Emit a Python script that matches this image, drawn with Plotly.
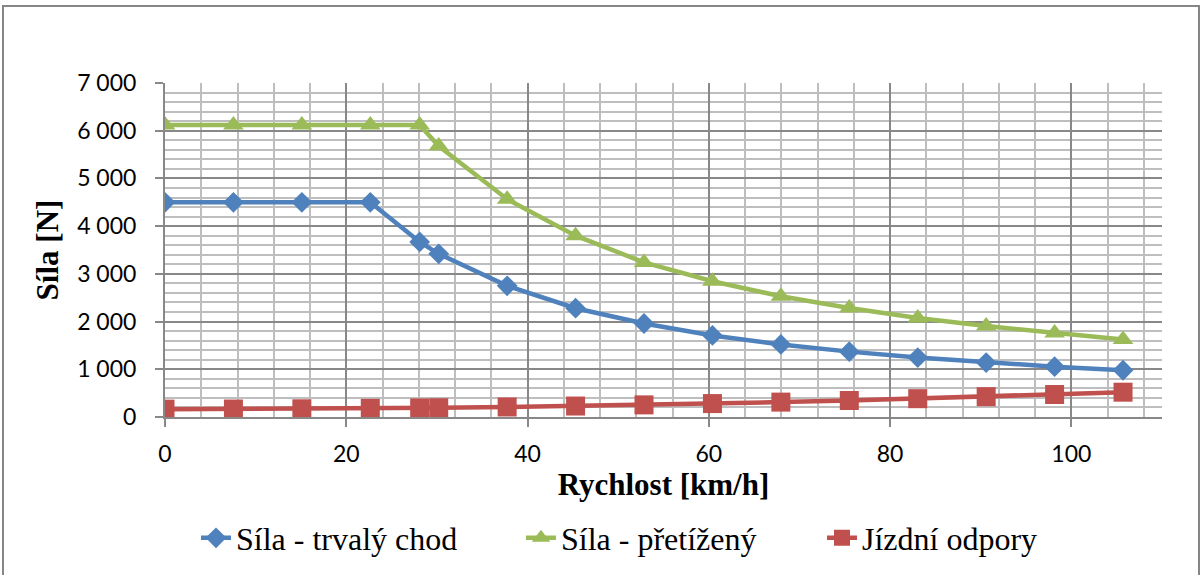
import plotly.graph_objects as go

# Speed [km/h]
speed = [0, 7.55, 15.1, 22.65, 28.1, 30.2, 37.75, 45.3, 52.85, 60.4, 67.95, 75.5, 83.05, 90.6, 98.15, 105.7]
# Force - continuous duty [N]
sila_trvaly = [4500, 4500, 4500, 4500, 3670, 3420, 2750, 2280, 1960, 1710, 1520, 1370, 1245, 1140, 1055, 980]
# Force - overloaded [N]
sila_pretizeny = [6120, 6120, 6120, 6120, 6120, 5680, 4565, 3800, 3240, 2845, 2530, 2285, 2073, 1905, 1758, 1625]
# Driving resistance [N]
jizdni_odpory = [165, 167, 172, 181, 190, 194, 210, 230, 254, 281, 312, 346, 384, 426, 471, 520]

series_names = ["Síla - trvalý chod", "Síla - přetížený", "Jízdní odpory"]
x_ticks = [0, 20, 40, 60, 80, 100]
y_ticks = [0, 1000, 2000, 3000, 4000, 5000, 6000, 7000]

BLUE = "#4F81BD"
GREEN = "#9BBB59"
RED = "#C0504D"
MAJOR = "#888888"
MINOR = "#BEBEBE"
TICKFONT = dict(family="Lato, Carlito, Calibri, sans-serif", size=23, color="black")
SERIF = "Liberation Serif, Times New Roman, serif"

fig = go.Figure()
fig.add_trace(go.Scatter(x=speed, y=sila_trvaly, name=series_names[0], mode="lines+markers",
                         line=dict(color=BLUE, width=4.5), legend="legend",
                         marker=dict(symbol="diamond", size=16, color=BLUE)))
fig.add_trace(go.Scatter(x=speed, y=sila_pretizeny, name=series_names[1], mode="lines+markers",
                         line=dict(color=GREEN, width=4.5), legend="legend2",
                         marker=dict(symbol="triangle-up", size=18, color=GREEN)))
fig.add_trace(go.Scatter(x=speed, y=jizdni_odpory, name=series_names[2], mode="lines+markers",
                         line=dict(color=RED, width=4.5), legend="legend3",
                         marker=dict(symbol="square", size=19, color=RED)))

L, R, T, B = 165, 41, 83, 158
W, H = 1203, 575
pw, ph = W - L - R, H - T - B

def px(xp):
    return (xp - L) / pw

def py(yp):
    return (H - B - yp) / ph

def leg(xpix):
    return dict(orientation="h", x=px(xpix), xanchor="left", y=py(538), yanchor="middle",
                font=dict(family=SERIF, size=32, color="black"),
                bgcolor="rgba(0,0,0,0)", borderwidth=0)

fig.update_layout(
    width=W, height=H,
    margin=dict(l=L, r=R, t=T, b=B, autoexpand=False),
    paper_bgcolor="white", plot_bgcolor="white",
    separators=", ",
    showlegend=True,
    legend=leg(196), legend2=leg(521), legend3=leg(822),
    xaxis=dict(range=[0, 110], tickvals=x_ticks, showgrid=True, gridcolor=MAJOR, gridwidth=1.5,
               minor=dict(dtick=4, showgrid=True, gridcolor=MINOR, gridwidth=2),
               showline=True, linecolor=MAJOR, linewidth=2, zeroline=False,
               ticks="outside", ticklen=8, tickcolor=MAJOR, tickwidth=1.5,
               tickfont=TICKFONT, ticklabelstandoff=7,
               title=dict(text="Rychlost [km/h]",
                          font=dict(family=SERIF, size=31, color="black", weight="bold"),
                          standoff=8)),
    yaxis=dict(range=[0, 7000], tickvals=y_ticks, tickformat=",d", showgrid=True, gridcolor=MAJOR,
               gridwidth=1.5,
               minor=dict(dtick=200, showgrid=True, gridcolor=MINOR, gridwidth=2),
               showline=True, linecolor=MAJOR, linewidth=2, zeroline=False,
               ticks="outside", ticklen=8, tickcolor=MAJOR, tickwidth=1.5,
               tickfont=TICKFONT, ticklabelstandoff=14,
               title=dict(text="Síla [N]",
                          font=dict(family=SERIF, size=31, color="black", weight="bold"),
                          standoff=9)),
    shapes=[dict(type="rect", xref="paper", yref="paper",
                 x0=px(3), x1=px(1199), y0=py(590), y1=py(6),
                 line=dict(color="#868686", width=2), fillcolor="rgba(0,0,0,0)", layer="below")],
)

fig.write_html("out.html")
